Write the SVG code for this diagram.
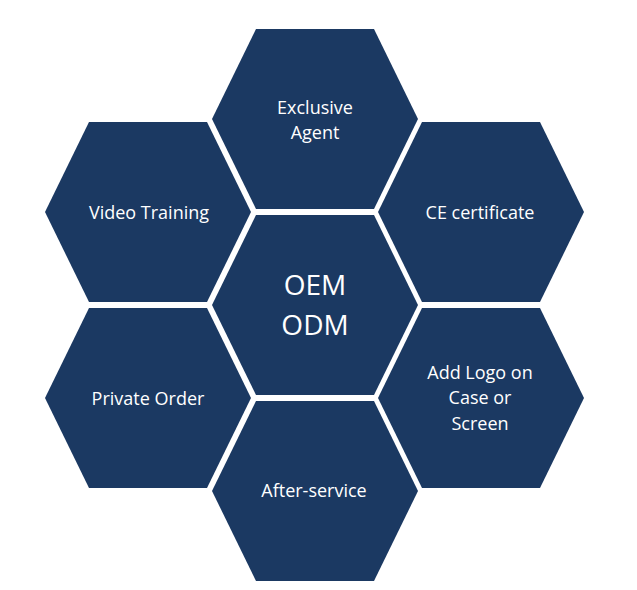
<svg xmlns="http://www.w3.org/2000/svg" width="637" height="590" viewBox="0 0 637 590">
  <style>
    .hex { fill: #1b3962; }
    .lbl { fill: #ffffff; font-family: "Open Sans", "Liberation Sans", sans-serif; font-size: 18px; text-anchor: middle; }
    .big { fill: #ffffff; font-family: "Open Sans", "Liberation Sans", sans-serif; font-size: 28px; text-anchor: middle; }
  </style>
  <defs>
    <path id="hx" d="M -103 0 L -59 -90 L 59 -90 L 103 0 L 59 90 L -59 90 Z"/>
  </defs>
  <rect width="637" height="590" fill="#ffffff"/>
  <g id="connectors"></g>
  <g id="center">
    <use href="#hx" class="hex" x="315" y="305"/>
    <text class="big" x="315" y="295">OEM</text>
    <text class="big" x="315" y="335">ODM</text>
  </g>
  <g id="exclusive-agent">
    <use href="#hx" class="hex" x="315" y="119"/>
    <text class="lbl" x="315" y="114">Exclusive</text>
    <text class="lbl" x="315" y="139">Agent</text>
  </g>
  <g id="video-training">
    <use href="#hx" class="hex" x="148" y="212"/>
    <text class="lbl" x="149" y="219">Video Training</text>
  </g>
  <g id="ce-certificate">
    <use href="#hx" class="hex" x="481" y="212"/>
    <text class="lbl" x="480" y="219">CE certificate</text>
  </g>
  <g id="private-order">
    <use href="#hx" class="hex" x="148" y="398"/>
    <text class="lbl" x="148" y="405">Private Order</text>
  </g>
  <g id="add-logo">
    <use href="#hx" class="hex" x="481" y="398"/>
    <text class="lbl" x="480" y="379">Add Logo on</text>
    <text class="lbl" x="480" y="404">Case or</text>
    <text class="lbl" x="480" y="430">Screen</text>
  </g>
  <g id="after-service">
    <use href="#hx" class="hex" x="315" y="491"/>
    <text class="lbl" x="314" y="497">After-service</text>
  </g>
</svg>
